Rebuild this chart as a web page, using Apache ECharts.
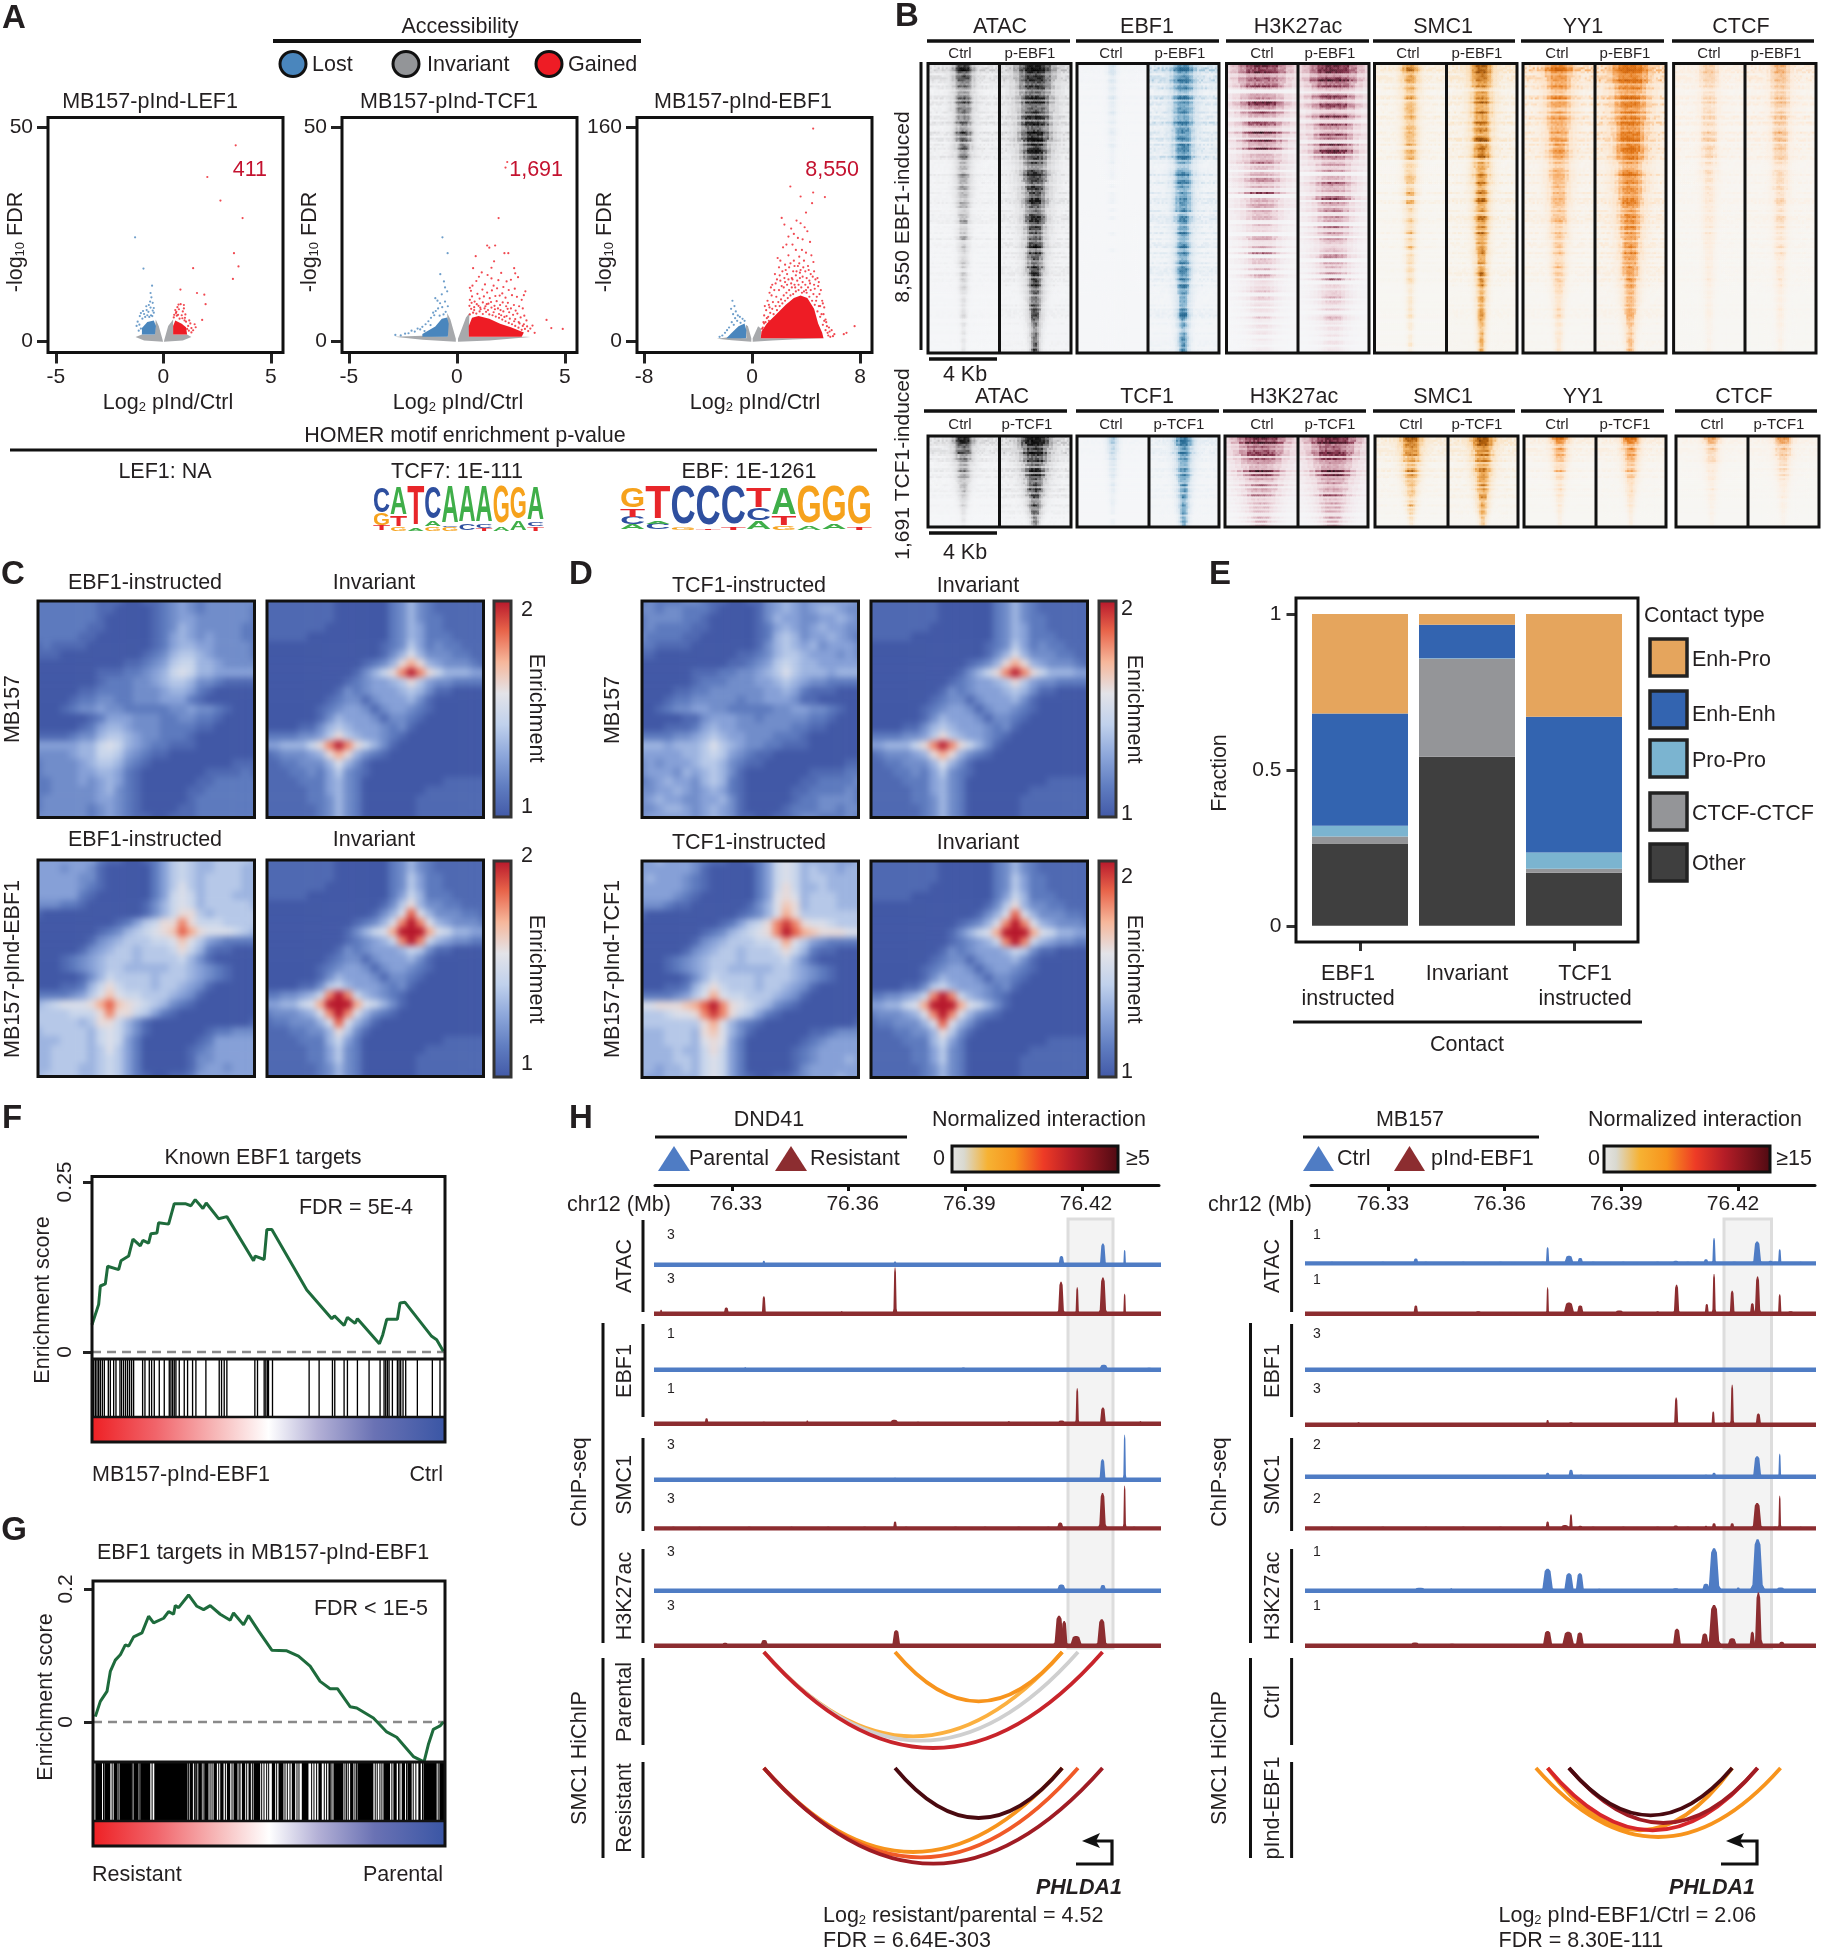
<!DOCTYPE html>
<html><head><meta charset="utf-8">
<style>html,body{margin:0;padding:0;background:#fff}
#hic,#main{position:absolute;left:0;top:0;width:1822px;height:1950px}
#hic{filter:blur(3.4px)}</style>
<script src="https://cdn.jsdelivr.net/npm/echarts@6/dist/echarts.min.js"></script></head>
<body><div id="hic"></div><div id="main"></div>
<script>
/* Values read by eye. Heatmap rows in B are built from per-row strength strings read from the picture and a typed texture;
   volcano clouds too dense to read point by point are drawn as read outlines plus the separable points. */
const FONT='"Liberation Sans",Arial,sans-serif', INK='#231f20';

// ---------- A: volcano ----------
const v1Red=[3.36,45.7,2.04,38.3,2.65,32.8,3.68,28.7,3.28,20.5,3.49,17.4,3.23,14.5,1.38,17,.79,12,1.56,11.2,1.9,10.8,1.96,8.6,1.8,4.9,.7,8.5,.8,8.6,.95,8.4,.55,7.2,.6,6.8,.72,7.4,.9,6.9,1.02,6.2,.5,6.1,.62,5.9,.85,6,1,5.4,1.2,4.8,1.45,3.9,1.5,3.2,1.3,3,1.38,2.5,1.15,3.5,1.05,4.5,.65,7.9,.48,5.5,.58,6.5,.95,7.6,1.1,2.8,1.25,4.1,1.18,2.4,1.3,2,.75,5.2,.68,6.1,.88,5.3,.98,4.8];
const v1Blue=[-1.32,24.2,-.93,16.9,-.53,12.9,-.6,11.2,-.56,10.2,-.62,9.2,-.5,8.9,-.68,8.4,-.8,8.1,-.6,7.8,-.45,7.7,-.78,7.2,-.95,7,-1.05,6.5,-.9,6.3,-.7,6.8,-.45,6.6,-1.1,5.8,-1.2,4.5,-1.25,3.5,-1.12,3.8,-1.05,2.9,-1.15,2.4,-.5,7.1,-.85,5.6,-.98,5.2,-.58,6,-.66,5.6,-.75,6,-.52,5.8];
const v1CloudRed=[[.45,1.5],[1.1,1.5],[1.05,3.2],[.85,4],[.55,4.8],[.45,3.5]];
const v1CloudBlue=[[-1,1.5],[-.4,1.5],[-.35,3.5],[-.45,4.8],[-.75,4.4],[-1,3]];
const v1CloudGrayL=[[-1.3,.9],[-.9,.1],[-.02,-.2],[-.04,.3],[-.22,3.5],[-.36,5],[-.4,1.5],[-1,1.5]];
const v1CloudGrayR=[[1.3,.9],[.9,.1],[.02,-.2],[.04,.3],[.22,3.5],[.45,5],[.45,1.5],[1.1,1.5]];
const v2Red=[1.93,28.7,2.33,41.8,2.25,40.5,1.4,22.3,1.77,22.3,1.5,21.8,.87,19.8,2.2,20.5,2.38,20.5,1.72,18.6,2.65,17,.75,17,1.6,17.1,2.83,14.9,3.17,11.6,4.15,4.9,4.9,2.8,4.37,3,2.7,15.8,.6,12.4,.65,11.7,.72,12.9,.9,14,1.02,15,1.15,16,1.3,13.2,1.42,15.4,1.6,14.6,1.7,12.9,1.92,14.2,2.05,15.9,2.15,12.6,2.3,13.9,2.5,14.3,.6,9.6,.7,10.4,.82,9.2,.95,11,1.05,9.9,1.18,12,1.25,10.4,1.4,11.3,1.52,10,1.62,11.8,1.78,10.5,1.86,12.3,1.98,10.6,2.1,11.1,2.25,10.1,2.4,11.9,2.55,10.7,2.68,12.2,2.78,10.3,3,9.6,3.1,10.7,.58,8.2,.68,8.9,.8,7.9,.92,8.6,1.08,7.8,1.2,9,1.32,8.1,1.46,8.7,1.58,9.1,1.74,8.2,1.84,9.3,2,8.4,2.12,9,2.28,8.1,2.36,8.9,2.5,7.6,2.64,8.4,2.72,7.1,2.88,8.1,3.05,7.6,3.12,5.9,2.95,5.5,2.8,6.4,2.6,6.1,2.42,6.7,2.3,5.8,2.15,6.9,2.02,7.2,3.22,4.8,3.25,3.4,3.1,3.9,3.3,2.3,3.4,2.9,3.6,1.9,3.5,3.6,2.86,4.4,2.7,5.1,1.9,7.6,1.76,7.4,.6,6.2,.75,6.6,.9,6.4,1.05,6.9,1.2,6.3,1.35,6.8,1.5,6.2,1.65,6,1.8,5.7,1.95,5.4,2.1,5,2.25,4.6,2.4,4.2,2.55,3.9,2.7,3.5,2.85,3.1,3,2.6,1.1,7.4,1.28,7.6,1.44,7.2,1.6,7.8,.8,7.2,.66,7.5,1.95,6.3,2.2,5.6,2.45,5.2,2.65,4.6,2.9,4.1,3.05,3.5,3.15,2.8,1.7,6.7,2.05,6,1,8.2,1.38,8.6,2.35,7.5];
const v2Blue=[-.67,24.2,-.43,20.5,-.77,15.6,-.6,13.9,-.55,12.5,-.45,11.6,-.7,10.9,-1,10,-.9,9.4,-.55,9.2,-.78,8.8,-.42,8.1,-.68,7.9,-.87,7.6,-.98,7,-1.1,6.6,-.52,6.8,-.62,6.2,-.8,5.9,-1.2,5.4,-1.32,4.6,-1.45,3.9,-1.6,3.3,-1.7,2.7,-1.82,2.9,-1.95,2.2,-2.1,2.4,-2.24,1.8,-2.4,1.7,-2.6,1.3,-2.85,1.4,-1.5,2.3,-1.22,3.7,-1.05,6];
const v2CloudRed=[[.55,1],[3,1],[3.1,2],[2.5,3.2],[2,4],[1.5,5.2],[1,5.8],[.7,5.4],[.55,3.5]];
const v2CloudBlue=[[-1.6,1],[-.42,1],[-.38,4],[-.45,5.5],[-.7,5.2],[-1,3.4],[-1.6,1.6]];
const v2CloudGrayL=[[-2.9,1],[-1.6,.3],[-.05,-.2],[-.05,.5],[-.3,5],[-.45,6.5],[-.42,1],[-1.6,1.2]];
const v2CloudGrayR=[[3.4,.9],[1.5,.1],[.05,-.2],[.05,.5],[.42,5.5],[.58,6.5],[.55,1],[3.2,1]];
const v3Red=[4.53,158.8,2.84,115.5,4.53,111,5.4,107.6,3.6,108,4.45,103,4,96,2.2,92,7,6,7.6,11,6.8,5,3.3,90,3.6,88,2.4,87,2.9,84,3.1,80,3.9,85,2.7,78,3.4,77,4.1,82,3.75,76,2.55,72,3,72,4.3,74,3.25,68,2.3,70,3.7,68,4,66,1.9,62,4.4,64,2.1,60,2.7,64,3.5,63,3.1,60,3.85,60,2.45,57,4.55,59,2,55,2.85,58,3.4,56,4.15,56,4.6,52,1.7,50,2.25,52,3.6,53,2.6,50,3.05,52,4.35,50,4.85,47,1.5,42,1.85,46,2.1,45,2.4,47,2.95,47,3.25,49,3.75,48,4.05,47,4.9,41,5.1,38,1.3,36,1.45,34,1.65,38,5,35,5.2,30,5.35,25,5.3,20,5.5,14,5.7,10,5.6,6,5.9,8,6.1,5,5.45,16,5.25,28,4.95,44,4.7,46,1.15,30,1.25,27,1.05,23,.9,19,.85,14,.95,26,1.4,40,1.75,43,2.05,49,2.5,53,2.75,55,3.15,56,3.5,58,3.95,52,4.25,45,4.65,39,4.8,33,5.05,26,
1,14,1.2,18,1.35,21,1.5,24,1.6,20,1.75,26,1.85,23,1.95,29,2.05,26,2.15,31,2.25,28,2.35,34,2.45,30,2.55,36,2.65,32,2.75,38,2.85,34,2.95,40,3.05,35,3.15,42,3.25,37,3.35,45,3.45,38,3.55,47,3.65,40,3.75,44,3.85,37,3.95,42,4.05,36,4.15,40,4.25,33,4.35,38,4.45,30,4.55,35,4.65,27,4.75,30,4.85,22,4.95,26,5.05,18,5.15,20,5.25,12,5.35,15,1.3,25,1.55,29,1.8,33,2,38,2.2,41,2.45,44,2.7,46,3,46,3.3,52,3.55,51,3.8,55,4.2,53,4.5,48,2.35,40,2.6,42,2.9,43,3.2,40,3.45,42,3.7,36,4,38,4.3,43,4.6,42,.8,10,.9,13,1.1,17,1.25,15,.75,9,5.45,8,5.55,11,5.65,4,5.75,7,5.8,3,6,3.5];
const v3Blue=[-1.45,30,-1.3,26,-1.55,24,-1.2,22,-1.4,20,-1.05,19,-.9,18,-1.25,17,-.7,16.5,-1.1,15,-.55,15,-1.5,14,-.85,13.5,-1.35,12,-1.7,10,-1.85,8,-2,6,-2.2,4,-2.4,3];
const v3CloudRed=[[.65,2],[5.3,2],[5.2,6],[4.9,13],[4.6,24],[4.1,32],[3.6,34],[3.1,32],[2.5,27],[1.8,20],[1.1,13],[.7,7]];
const v3CloudBlue=[[-1.9,2],[-.45,2],[-.42,8],[-.55,13],[-1,11],[-1.5,6]];
const v3CloudGrayL=[[-2.6,1.5],[-1.5,.5],[-.05,-.6],[-.05,2],[-.3,11],[-.45,12],[-.42,2],[-1.9,2.5]];
const v3CloudGrayR=[[3,1],[1.5,.2],[.05,-.6],[.05,2],[.45,11],[.68,9],[.65,2],[5.4,2]];
const v1Ticks=[-5,0,5], v2Ticks=[-5,0,5], v3Ticks=[-8,0,8], vYTicks12=[0,50], vYTicks3=[0,160];

// motif logos: [letter,height fraction] from bottom to top
const logoTCF7=[[['T',.12],['G',.27],['C',.6]],[['G',.08],['T',.25],['A',.65]],[['A',.05],['T',.95]],[['G',.1],['A',.12],['C',.75]],[['G',.08],['C',.04],['A',.88]],[['C',.15],['A',.85]],[['T',.05],['C',.1],['A',.85]],[['A',.1],['G',.88]],[['A',.22],['G',.75]],[['T',.1],['C',.1],['A',.8]]];
const logoEBF=[[['A',.12],['C',.18],['T',.2],['G',.5]],[['C',.15],['A',.05],['T',.8]],[['G',.05],['C',.95]],[['T',.03],['C',.97]],[['T',.05],['C',.95]],[['A',.2],['C',.3],['T',.5]],[['G',.1],['T',.22],['A',.65]],[['A',.1],['G',.9]],[['A',.12],['G',.88]],[['T',.05],['G',.95]]];

// ---------- B: row strength (hex, top to bottom) ----------
const R_ATAC_C="dfcebdacbdaebacabd9bac8ba9b7a98a7968a6879576a56745763655464354345243423232";
const R_ATAC_P="ffefdfefefcfefdfefeffdfcefdfefcfdefdfcefdefcdefcdecfdecdfcecdecdcecdcdbcdb";
const R_EBF_C="434232323222312122112111211110101110101000100010000000000000000000000000";
const R_EBF_P="cfbdecfaecbfdaecfbdaecbfdacebfdacebdfaecbdfacebdafcebdafcebdacfebdacebdc";
const R_H3_C="fdfbecfa4eb9fd7ea6dc8fb5eaf6b9e8c2a7d9b6e3a8c5b9a3c7a2b86a4c2a95a3b2758a3947263952736253142";
const R_H3_P="fefcfdfb5fcafe8fb7ed9fc6fbf7cafad3b8eac7f4b9d6ca4d8b3c97b5d3ba6b4c3869b4a5837a6384736254";
const R_SMC_C="bdacb9cab8ac9ba7c9a8b6a9b6a87a968b5a6975876a5869486757466354564546345243523";
const R_SMC_P="fdfeceafcfbdfbecfadfbecfadfbdcfaecfbcdafbdcebdafcbdacebcdabcdbacbdabcbcaba";
const R_YY1_C="dfcdbecbdbcacbdacbabcacbabacabab9ab9a9a9a989a8989878a7878787676767565656564";
const R_YY1_P="fffefdfefdfefdfefdfedfedfedefdedecedecdecdecdcdcdcdcdcbcbcbcbcbabababa9a9a8";
const R_CTCF_C="a9ba9a8a9a8a9a898a8a7a8a7a8a7978787687676757675656565565545545454434434343";
const R_CTCF_P="dbdcbcbdbcbabcbabcabab9aba9a9a9a89a9898a8987878787677676766565655555445444";
const R2_ATAC_C="efdcebdcabcbaba9a98a787a6876565454433323212";
const R2_ATAC_P="ffefefdfefdfefcfedfcedfdcedcdcbcbcbababa9a98";
const R2_TCF_C="7656545343233232221221110110";
const R2_TCF_P="dfcedbecdbecdacdbcadbcabcabab9aa9a9a";
const R2_H3_C="ffdfbfcedfaecfbdafbe9ca8d7ba9c6a8b5a7946a5a3a7";
const R2_H3_P="ffefcfdeefbfcfcebfcfacb9e8cba9d7b9c6b8a57b6a4b8";
const R2_SMC_C="febdfcdbecbdacbd9cb8ba9a79a8696a5857465342";
const R2_SMC_P="ffdfeceafdcfbdecfbdcebdbcacbcabab9a9a98787";
const R2_YY1_C="fcb9db8c9a8a7a687565756453544343232";
const R2_YY1_P="fdcaec9dbaba9a8a7868676564554343332";
const R2_CTCF_C="ecb9ca8b9a786857665745464353443232";
const R2_CTCF_P="fdcadb9ca9b8a7968767565645454343332";
const KERNEL=[1,.92,.7,.45,.3,.2,.13,.09,.06,.04,.03];
const SPECKLE="9204716385170392846152703948165029374816059273648105937264801592736";

// ---------- C/D: aggregate peak maps, hex level 0..f = enrichment 1..2, rows 0..12 (lower half is the point reflection) ----------
const apaInstructedMB=["2222222111001123432333333","2222222110000123432333332","2222222100000123443333332","2222221100000123543333322","2222211000000124543433322","1211110000000124554433332","1110000000001235665433332","0000000000112346775543333","0000000111223457875544444","0000000122233456653321111","0000011222233345542100000","0000122332233344421000000","0001233433222223343321000"];
const apaInvariantMB=["1111111100000023532111111","1111111100000023532111111","1111111100000023532211111","1111111000000023542211111","1111100000000023542221111","0000000000000123642322111","0000000000000135853332211","0000000000012359b95433321","000000000013579cfc9755544","0000000001234456964332222","0000000013234445653110000","0000000123313444531000000","0000001234431344321000000"];
const apaInstructedEBF=["4444444211001246765566665","4443443100000246765566655","4444433100000246765666655","4444432100000246865666655","4444421000000247875666555","3332210000001357875666665","1000000000001357996566666","0000000001246799c97776666","000000012356789adb9888765","0000001345666778a86432222","0000013456656667975211000","0001234566656666753100000","0001234566555556654321000"];
const apaInvariantEBF=["1111111100000023532111111","1111111100000023532111111","1111111100000023642211111","1111111000000023642211111","1111100000000024752221111","0000000000000136953322111","0000000000001358d85333221","000000000012358cfc8543332","00000000013578bfffb875544","000000000123457cfc7543322","0000000013234445763110000","0000000123313444531000000","0000001234431344321000000"];
const apaInstructedTCFMB=["2322233211001134543444443","3323322210000134543455433","2333322100000135443344543","2322221100000124543454433","3222211000000125653445432","2211110000000135654534443","1100000000011235665444343","0000000000112346765544444","0000001112233456865554555","0000001222333445654332222","0000112233333344542111000","0001223333323344431100000","0012334433222223344332100"];
const apaInstructedTCF=["4454443211001247875555445","4444443100000247875655455","4544432100000247875665555","4444432100000247975565555","4444321000000248985666555","3332110000001358a95666555","1000000000012358b96666666","000000000124679cec9887666","000000012356789cfdba99988","0000001345666778b86432222","0000013456656667975211000","0001234566656666753100000","0001234566555556654321000"];

// ---------- E ----------
const contactCats=['EBF1 instructed','Invariant','TCF1 instructed'];
const cOther=[.264,.542,.17], cCtcf=[.022,.314,.013], cProPro=[.035,.002,.052], cEnhEnh=[.36,.107,.435], cEnhPro=[.319,.035,.33];

// ---------- F/G ----------
const fRank=[0,20,25,40,47,80,87,110,123,145,153,170,177,195,200,230,247,280,297,310,333,343,380,405,485,490,517,525,540,645,720,728,757,767,790,797,863,873,885,917,925,940,1020,1035,1055];
const fScore=[.04,.07,.097,.1,.126,.121,.134,.141,.166,.156,.164,.16,.174,.175,.19,.188,.218,.218,.215,.224,.211,.219,.196,.199,.134,.141,.136,.18,.18,.091,.049,.053,.039,.051,.042,.049,.012,.025,.048,.048,.072,.073,.023,.018,.001];
const fHits=[3,8,13,18,23,29,35,47,53,63,70,82,87,93,99,105,111,117,123,150,157,170,177,185,200,215,230,235,240,245,250,260,275,285,300,310,340,380,387,395,403,487,495,515,520,525,528,540,650,680,720,727,755,765,795,830,863,875,880,885,890,900,915,920,925,932,940,975,1020,1043];
const gRank=[7,22,42,52,67,82,97,107,122,147,167,182,212,227,242,247,257,287,312,332,352,382,412,422,452,467,497,537,582,617,652,682,712,734,772,792,842,882,912,962,994,1007,1022,1042,1052];
const gScore=[.008,.031,.046,.076,.093,.101,.116,.114,.128,.134,.159,.149,.156,.166,.162,.175,.172,.191,.174,.169,.175,.162,.153,.164,.146,.16,.137,.108,.107,.099,.084,.061,.05,.05,.023,.021,.006,-.015,-.023,-.052,-.06,-.034,-.011,-.006,0];
const gHitBands=[[7,27],[34,52],[62,74],[80,117],[122,137],[142,172],[184,284],[290,300],[307,312],[317,327],[334,347],[362,372],[382,392],[402,412],[422,434],[447,457],[467,474],[482,502],[537,547],[557,572],[597,607],[627,647],[677,687],[707,714],[722,752],[772,782],[794,842],[872,892],[902,912],[927,937],[944,957],[977,984],[992,1032],[1040,1057]];
const gHitThin=[30,56,76,118,139,176,285,303,314,329,350,356,376,396,416,437,440,460,477,505,512,520,526,550,575,582,590,611,617,655,662,670,693,700,716,755,760,765,785,790,846,852,860,866,896,916,920,940,960,968,988,1035];

// ---------- H: tracks, each peak [bin, height, half width] ----------
const L_ATAC_A=[[515,12,5],[847,10,5],[1268,25,9],[1373,60,9],[1428,42,4],[420,3,5],[660,3,5],[1130,2,6]];
const L_ATAC_B=[[255,12,4],[420,18,8],[465,5,6],[515,50,6],[712,8,4],[847,130,5],[1128,4,4],[1267,90,9],[1308,75,5],[1373,102,10],[1428,57,4],[1480,4,6]];
const L_EBF_A=[[330,4,6],[468,8,4],[650,4,5],[730,5,5],[1020,7,8],[1210,5,8],[1315,5,6],[1375,15,14],[1490,6,12],[290,3,9],[900,4,10]];
const L_EBF_B=[[370,16,6],[515,6,8],[625,10,4],[845,12,14],[905,6,8],[1135,8,5],[1268,10,12],[1308,100,5],[1373,46,9],[1468,8,4],[300,5,10],[420,4,12],[560,5,8],[700,4,10],[760,4,8],[980,5,10],[1050,4,9],[1210,4,8]];
const L_SMC_A=[[512,3,6],[847,6,5],[908,4,4],[1268,3,5],[1372,58,9],[1428,127,4],[1465,5,4]];
const L_SMC_B=[[847,20,6],[1265,17,10],[1372,100,10],[1428,120,4],[1490,3,8],[512,3,8]];
const L_H3_A=[[1268,18,14],[1373,17,10]];
const L_H3_B=[[417,9,10],[516,17,12],[850,44,12],[1262,85,14],[1275,70,10],[1305,28,18],[1370,75,14],[1430,4,10]];
const R_ATAC_A=[[560,14,8],[887,46,5],[940,22,14],[968,16,9],[1205,8,10],[1280,12,8],[1300,72,5],[1407,62,12],[1463,40,5],[715,3,8],[1350,5,12],[1440,8,8]];
const R_ATAC_B=[[560,24,7],[715,8,10],[887,75,4],[940,32,16],[968,24,10],[1065,10,14],[1160,8,6],[1207,82,8],[1282,28,6],[1300,112,5],[1345,65,7],[1395,30,7],[1408,105,8],[1463,55,5],[1490,8,10],[800,4,8]];
const R_EBF_A=[[1410,3,10],[640,2,8]];
const R_EBF_B=[[418,8,5],[887,14,5],[945,8,8],[1206,77,6],[1298,38,5],[1326,8,4],[1345,113,5],[1410,32,8],[1465,5,6],[650,5,6]];
const R_SMC_A=[[887,12,7],[945,20,8],[970,6,8],[1280,6,8],[1300,12,7],[1407,58,12],[1463,65,4]];
const R_SMC_B=[[560,4,8],[887,20,6],[945,40,5],[930,10,14],[968,8,8],[1205,9,9],[1280,8,5],[1300,15,7],[1345,15,7],[1407,72,13],[1463,92,4]];
const R_H3_A=[[570,9,18],[648,8,4],[887,62,16],[940,50,14],[967,50,12],[1015,6,6],[1205,8,12],[1280,20,12],[1300,120,16],[1408,145,16],[1465,10,14],[1360,10,6],[780,4,8],[820,4,8]];
const R_H3_B=[[558,10,14],[650,6,14],[887,42,14],[938,40,18],[967,38,12],[1208,48,12],[1277,35,12],[1300,115,16],[1345,22,14],[1395,40,8],[1410,150,10],[1468,12,10]];
const baseBumps=[[262,4,7],[286,5,9],[318,3,8],[352,5,7],[388,4,10],[446,4,8],[478,5,9],[540,3,10],[585,5,7],[612,4,9],[640,3,8],[678,5,9],[735,4,8],[770,5,10],[802,4,7],[875,5,9],[930,4,8],[1000,5,10],[1038,3,8],[1075,5,9],[1105,4,7],[1160,5,10],[1195,4,8],[1235,5,9],[1330,4,8],[1410,4,7],[1452,5,9],[1495,4,8],[1515,5,6],[1535,4,8]];
// arcs: [start bin, end bin, lowest point, colour]
const arcsLParental=[[515,1270,290,'#fbb040'],[515,1310,303,'#cfcfcf'],[515,1372,325,'#c8242b'],[847,1270,185,'#f7941d']];
const arcsLResistant=[[515,1270,637,'#f7941d'],[515,1310,653,'#f05a28'],[515,1372,672,'#a01c24'],[847,1270,535,'#4a0a10']];
const arcsR=[[858,1465,592,'#f7941d'],[887,1345,572,'#f7941d'],[887,1408,572,'#d7262b'],[940,1408,550,'#a01c24'],[940,1345,527,'#4a0a10']];
const hMbTicks=[76.33,76.36,76.39,76.42];

// ---------- builders ----------
const grids=[],xAxes=[],yAxes=[],series=[],gfx=[];
function addGrid(l,t,w,h,xa,ya){const i=grids.length;grids.push({left:l,top:t,width:w,height:h,containLabel:false});
 xAxes.push(Object.assign({gridIndex:i,type:'value',show:false,splitLine:{show:false}},xa||{}));
 yAxes.push(Object.assign({gridIndex:i,type:'value',show:false,splitLine:{show:false}},ya||{}));return i;}
function T(s,x,y,o){o=o||{};const st={text:s,fontFamily:o.ff||FONT,fontSize:o.fs||21.5,fontWeight:o.fw||'normal',fontStyle:o.it||'normal',fill:o.c||INK,align:o.a||'center',verticalAlign:'middle'};
 if(o.rich)st.rich=o.rich;
 const r=o.r||0;gfx.push({type:'text',x:x+(r>0?1.3:0),y:y+(r?0:1.3),z:100,rotation:r,silent:true,style:st});}
function L(x1,y1,x2,y2,w,c){gfx.push({type:'line',z:100,silent:true,shape:{x1,y1,x2,y2},style:{stroke:c||'#111',lineWidth:w||3}});}
function Box(x,y,w,h,lw,fill,stroke,z){gfx.push({type:'rect',z:z==null?100:z,silent:true,shape:{x,y,width:w,height:h},style:{fill:fill||'none',stroke:stroke||'#111',lineWidth:lw==null?3:lw}});}
function pairs(a){const o=[];for(let i=0;i<a.length;i+=2)o.push([a[i],a[i+1]]);return o;}
const R90=Math.PI/2;
const subRich=fs=>({b:{fontSize:fs,fontFamily:FONT,fill:INK,lineHeight:30,verticalAlign:'middle'},s:{fontSize:Math.round(fs*.62),fontFamily:FONT,fill:INK,lineHeight:12,verticalAlign:'bottom'}});

// A
function volcano(l,t,w,h,xr,yr,xt,yt,ds){
 const axT={show:true,length:11,lineStyle:{width:3,color:'#222'}};
 const lab={show:true,fontSize:21,fontFamily:FONT,color:INK};
 const g=addGrid(l,t,w,h,
  {show:true,min:xr[0],max:xr[1],axisLine:{show:false,onZero:false},axisTick:Object.assign({customValues:xt},axT),axisLabel:Object.assign({customValues:xt,margin:14},lab)},
  {show:true,min:yr[0],max:yr[1],axisLine:{show:false,onZero:false},axisTick:Object.assign({customValues:yt},axT),axisLabel:Object.assign({customValues:yt,margin:15},lab)});
 const poly=(pts,c)=>series.push({type:'custom',xAxisIndex:g,yAxisIndex:g,data:pts,silent:true,animation:false,
   renderItem:(p,api)=>p.dataIndex?null:{type:'polygon',shape:{points:pts.map(q=>api.coord(q))},style:{fill:c}}});
 const dots=(a,c)=>series.push({type:'scatter',xAxisIndex:g,yAxisIndex:g,data:pairs(a),symbolSize:2.2,itemStyle:{color:c},silent:true,animation:false,large:false});
 poly(ds.gl,'#a7a9ac');poly(ds.gr,'#a7a9ac');poly(ds.cb,'#4a86bd');poly(ds.cr,'#ee1c25');dots(ds.b,'#4a86bd');dots(ds.r,'#ee1c25');
 Box(l,t,w,h);
}
volcano(48,117.5,235,235,[-5.37,5.56],[-2.7,52.2],v1Ticks,vYTicks12,{gl:v1CloudGrayL,gr:v1CloudGrayR,cb:v1CloudBlue,cr:v1CloudRed,b:v1Blue,r:v1Red});
volcano(342,117.5,235,235,[-5.32,5.56],[-2.7,52.2],v2Ticks,vYTicks12,{gl:v2CloudGrayL,gr:v2CloudGrayR,cb:v2CloudBlue,cr:v2CloudRed,b:v2Blue,r:v2Red});
volcano(637,117.5,235,235,[-8.52,8.89],[-8.7,167.1],v3Ticks,vYTicks3,{gl:v3CloudGrayL,gr:v3CloudGrayR,cb:v3CloudBlue,cr:v3CloudRed,b:v3Blue,r:v3Red});
T('A',14,18,{fs:33,fw:'bold'});T('Accessibility',460,26);L(273,41,641,41,4);
[[293,'#4a86bd','Lost',312],[406,'#939598','Invariant',427],[549,'#ee1c25','Gained',568]].forEach(d=>{
 gfx.push({type:'ellipse',z:100,silent:true,shape:{cx:d[0],cy:64,rx:13,ry:12.5},style:{fill:d[1],stroke:'#111',lineWidth:3}});T(d[2],d[3],64,{a:'left'});});
[['MB157-pInd-LEF1',150],['MB157-pInd-TCF1',449],['MB157-pInd-EBF1',743]].forEach(d=>T(d[0],d[1],101));
[[15,168],[309,458],[604,755]].forEach(d=>{
 T('-log{s|10} FDR',d[0],242,{r:R90,rich:subRich(21.5)});
 T('Log{s|2} pInd/Ctrl',d[1],401.5,{rich:subRich(21.5)});});
T('411',267,169,{a:'right',c:'#c4122f'});T('1,691',563,169,{a:'right',c:'#c4122f'});T('8,550',859,169,{a:'right',c:'#c4122f'});
T('HOMER motif enrichment p-value',465,435);L(10,450,877,450,3);
T('LEF1: NA',165,471);T('TCF7: 1E-111',457,471);T('EBF: 1E-1261',749,471);
const LOGOC={A:'#3fae49',C:'#2e4f9f',G:'#f6a21c',T:'#e8262a'};
const mc=document.createElement('canvas').getContext('2d');mc.font='bold 100px "Liberation Sans"';
function logo(data,x0,x1,yb,H){const cw=(x1-x0)/data.length;data.forEach((col,i)=>{let y=yb;col.forEach(e=>{const h=e[1]*H;
  const m=mc.measureText(e[0]).width;
  gfx.push({type:'text',z:100,silent:true,x:x0+i*cw,y:y-h/2,scaleX:cw/m,scaleY:h/72,style:{text:e[0],font:'bold 100px "Liberation Sans"',fill:LOGOC[e[0]],align:'left',verticalAlign:'middle'}});
  y-=h;});});}
logo(logoTCF7,373,544,531,42);logo(logoEBF,620,872,530,41);

// B
const bPal={k:['#f5f6f8','#d4d4d6','#8a8a8c','#222','#000'],b:['#f5f6f8','#cfe0ec','#7fb0cd','#2f7199','#1d5f89'],
 h:['#f5f6f8','#eed7dd','#cc96a5','#7e2c45','#2a1018'],s:['#f7f6f3','#fbdfba','#efab58','#b9660f','#7a3f0a'],
 y:['#f7f6f3','#fde3c8','#f7ae6a','#e27514','#c85e08'],c:['#f7f6f3','#fcecdd','#f9cda4','#ec994f','#d67a2a']};
const bGamma={k:1.15,b:1,h:1.7,s:1.3,y:1.3,c:1.3};
const bIdx={k:[],b:[],h:[],s:[],y:[],c:[]};
const COLS=36, SL=SPECKLE.length;
function heat(left,w,top,h,rows,str,wT,wB,tail,pal){
 const g=addGrid(left,top,w,h,{type:'category',data:Array.from({length:COLS},(_,i)=>i)},{type:'category',inverse:true,data:Array.from({length:rows},(_,i)=>i)});
 const d=[],mid=(COLS-1)/2;for(let r=0;r<rows;r++){const amp=Math.pow(parseInt(str[Math.floor(r*str.length/rows)],16)/15,bGamma[pal]),f=r/rows,wd=wB+(wT-wB)*(1-f);
  const rs=Math.min(1,Math.max(0,(+SPECKLE[(r*r*7+r*13)%SL]+ +SPECKLE[(r*11)%61])/18*1.5-.25)),core=amp*(.55+.45*rs);
  for(let c=0;c<COLS;c++){const k=KERNEL[Math.min(KERNEL.length-1,Math.floor(2*Math.abs(c-mid)/wd))];
   const cs=+SPECKLE[(r*r*3+c*c*5+r*c*11+c*7)%SL]/9;
   const tl=tail*(1-.85*f)*(.3+.7*cs)*(rs>.55?1:.45);
   d.push([c,r,+(core*Math.max(k*(.8+.2*cs),tl)).toFixed(3)]);}}
 bIdx[pal].push(series.length);
 series.push({type:'heatmap',xAxisIndex:g,yAxisIndex:g,data:d,progressive:0,silent:true,animation:false,itemStyle:{borderWidth:0},emphasis:{disabled:true}});
}
// per column: [frame x0, x1, divider, pal, strC, strP, wTc,wBc,tc, wTp,wBp,tp]
const bTop=[[928,1071,999.5,'k',R_ATAC_C,R_ATAC_P,3,.5,.3,5.5,1,.35],[1077,1219,1148,'b',R_EBF_C,R_EBF_P,1.2,.5,.1,3.5,1.2,.4],[1226.5,1369,1298,'h',R_H3_C,R_H3_P,8,3,.25,8,3,.25],[1374.5,1517,1446.5,'s',R_SMC_C,R_SMC_P,2.4,.6,.22,3.2,.8,.25],[1523,1666,1595,'y',R_YY1_C,R_YY1_P,4.5,.8,.5,6,1,.5],[1673.6,1816,1745,'c',R_CTCF_C,R_CTCF_P,3.2,.8,.5,3.5,.8,.5]];
const bBot=[[928,1071,999.5,'k',R2_ATAC_C,R2_ATAC_P,3,.5,.3,4.8,.9,.35],[1077,1219,1149,'b',R2_TCF_C,R2_TCF_P,1.4,.5,.08,2.5,.9,.15],[1225,1368,1298,'h',R2_H3_C,R2_H3_P,8,3,.3,8,3,.3],[1375,1518,1448,'s',R2_SMC_C,R2_SMC_P,3,.6,.2,3.4,.7,.22],[1524,1666,1596,'y',R2_YY1_C,R2_YY1_P,2.4,.5,.2,2.6,.5,.2],[1676,1819,1748,'c',R2_CTCF_C,R2_CTCF_P,2.4,.5,.2,2.8,.5,.2]];
function heatRow(list,top,h,rows){list.forEach(p=>{
 heat(p[0],p[2]-p[0],top,h,rows,p[4],p[6],p[7],p[8],p[3]);
 heat(p[2],p[1]-p[2],top,h,rows,p[5],p[9],p[10],p[11],p[3]);
 Box(p[0],top,p[1]-p[0],h);L(p[2],top,p[2],top+h,3);});}
heatRow(bTop,63.6,289.4,144);heatRow(bBot,436,91,45);
T('B',907,16,{fs:33,fw:'bold'});
[['ATAC',1000,927,1070],['EBF1',1147,1076,1219],['H3K27ac',1298,1226,1369],['SMC1',1443,1373,1515],['YY1',1583,1521,1664],['CTCF',1741,1672,1814]].forEach(d=>{T(d[0],d[1],26);L(d[2],41,d[3],41,3.5);});
[['ATAC',1002,924,1067],['TCF1',1147,1076,1219],['H3K27ac',1294,1223,1366],['SMC1',1443,1373,1515],['YY1',1583,1521,1664],['CTCF',1744,1675,1817]].forEach(d=>{T(d[0],d[1],396);L(d[2],411,d[3],411,3.5);});
[[960,1030],[1111,1180],[1262,1330],[1408,1477],[1557,1625],[1709,1776]].forEach(d=>{T('Ctrl',d[0],53,{fs:15});T('p-EBF1',d[1],53,{fs:15});});
[[960,1027],[1111,1179],[1262,1330],[1411,1477],[1557,1625],[1712,1779]].forEach(d=>{T('Ctrl',d[0],424,{fs:15});T('p-TCF1',d[1],424,{fs:15});});
L(921,62,921,350,3);T('8,550 EBF1-induced',902,207,{r:R90,fs:21});T('1,691 TCF1-induced',902,464,{r:R90,fs:21});
L(929,359,997,359,3.5);T('4 Kb',965,374);L(929,533,997,533,3.5);T('4 Kb',965,552);

// C, D
const apaStops=[[0,'#4158a6'],[1/7,'#5f7cc0'],[2/7,'#8ca6da'],[3/7,'#c0d1ec'],[4/7,'#e3e3e8'],[5/7,'#f6b79b'],[6/7,'#e8644a'],[1,'#b5152a']];
const APA=216.5;
const apaPanels=[[38,601,apaInstructedMB],[267,601,apaInvariantMB],[38,860,apaInstructedEBF],[267,860,apaInvariantEBF],[642,601,apaInstructedTCFMB],[871,601,apaInvariantMB],[642,861,apaInstructedTCF],[871,861,apaInvariantEBF]];
apaPanels.forEach(p=>Box(p[0],p[1],APA,APA));
const vGrad=s=>({type:'linear',x:0,y:1,x2:0,y2:0,colorStops:s.map(q=>({offset:q[0],color:q[1]}))});
const hGrad=s=>({type:'linear',x:0,y:0,x2:1,y2:0,colorStops:s.map(q=>({offset:q[0],color:q[1]}))});
[[494,601],[494,861],[1099,601],[1099,861]].forEach(d=>{gfx.push({type:'rect',z:100,silent:true,shape:{x:d[0],y:d[1],width:17,height:216},style:{fill:vGrad(apaStops),stroke:'#333',lineWidth:3}});});
T('C',13,574,{fs:33,fw:'bold'});T('D',581,574,{fs:33,fw:'bold'});
T('EBF1-instructed',145,582);T('Invariant',374,582);T('EBF1-instructed',145,839);T('Invariant',374,839);
T('TCF1-instructed',749,585);T('Invariant',978,585);T('TCF1-instructed',749,842);T('Invariant',978,842);
T('MB157',12,709,{r:R90});T('MB157-pInd-EBF1',12,969,{r:R90});T('MB157',612,710,{r:R90});T('MB157-pInd-TCF1',612,969,{r:R90});
[[527,609],[527,855],[1127,608],[1127,876]].forEach(d=>T('2',d[0],d[1]));[[527,806],[527,1063],[1127,813],[1127,1071]].forEach(d=>T('1',d[0],d[1]));
[[536,708],[536,969],[1134,709],[1134,969]].forEach(d=>T('Enrichment',d[0],d[1],{r:-R90}));

// E
(function(){const g=addGrid(1306.5,598,321,344,
  {show:true,type:'category',data:contactCats,axisLine:{show:false,onZero:false},axisTick:{show:true,alignWithLabel:true,length:9,lineStyle:{width:3,color:'#333'}},axisLabel:{show:false},offset:0},
  {show:true,min:-.052,max:1.051,offset:10,axisLine:{show:false,onZero:false},axisTick:{show:true,length:10,customValues:[0,.5,1],lineStyle:{width:3,color:'#333'}},axisLabel:{customValues:[0,.5,1],fontSize:21,fontFamily:FONT,color:INK,margin:15}});
 [[cOther,'#3f3f3f','Other'],[cCtcf,'#949598','CTCF-CTCF'],[cProPro,'#7bb4d0','Pro-Pro'],[cEnhEnh,'#3364b0','Enh-Enh'],[cEnhPro,'#e5a55d','Enh-Pro']].forEach(d=>{
  series.push({type:'bar',name:d[2],stack:'c',xAxisIndex:g,yAxisIndex:g,data:d[0],barWidth:96,itemStyle:{color:d[1]},silent:true,animation:false});});
 Box(1296,598,342,344);
 T('E',1220,574,{fs:33,fw:'bold'});T('Fraction',1219,773,{r:R90});
 T('EBF1',1348,973);T('instructed',1348,998);T('Invariant',1467,973);T('TCF1',1585,973);T('instructed',1585,998);L(1293,1022,1642,1022,3);T('Contact',1467,1044);
 T('Contact type',1644,615,{a:'left'});
 [[639,'#e5a55d','Enh-Pro',659],[691,'#3364b0','Enh-Enh',714],[740,'#7bb4d0','Pro-Pro',760],[793,'#949598','CTCF-CTCF',813],[844,'#3f3f3f','Other',863]].forEach(d=>{Box(1650,d[0],37,37,3.5,d[1],'#222');T(d[2],1692,d[3],{a:'left'});});
})();

// F, G
const stripStops=[[0,'#ee2024'],[.18,'#f1646a'],[.36,'#f7bcbc'],[.5,'#ffffff'],[.64,'#b3b0d6'],[.8,'#6a72b4'],[1,'#3a56a5']];
function gsea(l,w,xMax,top,sep,barB,stripT,stripB,frameB,yMin,yMax,yT,rank,score,bands){
 const g=addGrid(l,top,w,sep-top,{min:0,max:xMax},
  {show:true,min:yMin,max:yMax,axisLine:{show:false,onZero:false},axisTick:{show:true,length:9,customValues:yT,lineStyle:{width:3,color:'#222'}},axisLabel:{customValues:yT,rotate:90,fontSize:21,fontFamily:FONT,color:INK,margin:16}});
 series.push({type:'line',xAxisIndex:g,yAxisIndex:g,data:[[0,0],[xMax,0]],showSymbol:false,silent:true,animation:false,lineStyle:{color:'#8a8a8a',width:2.5,type:[9,6]}});
 series.push({type:'line',xAxisIndex:g,yAxisIndex:g,data:rank.map((x,i)=>[x,score[i]]),showSymbol:false,silent:true,animation:false,lineStyle:{color:'#1e6b3c',width:3}});
 const b=addGrid(l,sep,w,barB-sep,{min:0,max:xMax},{min:0,max:1});
 series.push({type:'custom',xAxisIndex:b,yAxisIndex:b,data:bands,silent:true,animation:false,encode:{x:[0,1]},
  renderItem:(p,api)=>{const a=api.coord([api.value(0),1]),c=api.coord([api.value(1),0]);return{type:'rect',shape:{x:a[0],y:a[1],width:Math.max(1,c[0]-a[0]),height:c[1]-a[1]},style:{fill:'#000'}};}});
 gfx.push({type:'rect',z:99,silent:true,shape:{x:l,y:stripT,width:w,height:stripB-stripT},style:{fill:hGrad(stripStops)}});
 Box(l,top,w,frameB-top);L(l,sep,l+w,sep,3);L(l,stripT-1,l+w,stripT-1,2.5);
}
gsea(92,353,1060,1176.5,1359,1416,1418,1442,1442,-.0103,.258,[0,.25],fRank,fScore,fHits.map(x=>[x,x+4]));
gsea(93,352,1057,1581,1762,1820,1822,1846,1846,-.0602,.212,[0,.2],gRank,gScore,gHitBands.concat(gHitThin.map(x=>[x,x+2])));
T('F',12,1118,{fs:33,fw:'bold'});T('G',14,1530,{fs:33,fw:'bold'});
T('Known EBF1 targets',263,1157);T('FDR = 5E-4',356,1207);T('MB157-pInd-EBF1',92,1474,{a:'left'});T('Ctrl',443,1474,{a:'right'});
T('Enrichment score',42,1300,{r:R90});T('Enrichment score',45,1697,{r:R90});
T('EBF1 targets in MB157-pInd-EBF1',263,1551.5);T('FDR < 1E-5',371,1608);T('Resistant',92,1874,{a:'left'});T('Parental',443,1874,{a:'right'});

// H
const heatStops=[[0,'#e6e6e6'],[.08,'#d9d9d0'],[.22,'#f6b233'],[.38,'#f7941d'],[.55,'#ee3b26'],[.72,'#b51d27'],[1,'#4d0a12']];
const PK=[[-1.3,0],[-.8,.12],[-.45,.9],[-.15,1],[.15,1],[.45,.9],[.8,.12],[1.3,0]];
function track(left,w,bMin,bMax,base,pk,col){
 const g=addGrid(left,base-50,w,50,{min:bMin,max:bMax},{min:0,max:140});
 const inRange=pk.filter(q=>q[0]-q[2]*1.3>=bMin&&q[0]+q[2]*1.3<=bMax);
 series.push({type:'custom',xAxisIndex:g,yAxisIndex:g,data:inRange,silent:true,animation:false,clip:false,z:3,
  renderItem:(p,api)=>{const x=api.value(0),h=api.value(1),wd=api.value(2);
   const ch=[{type:'polygon',shape:{points:PK.map(q=>api.coord([x+q[0]*wd,q[1]*h]))},style:{fill:col}}];
   if(p.dataIndex===0){const a=api.coord([bMin,0]),b=api.coord([bMax,0]);ch.push({type:'rect',shape:{x:a[0],y:a[1]-2.4,width:b[0]-a[0],height:4.4},style:{fill:col}});}
   return{type:'group',children:ch};}});
}
function arcs(left,w,bMin,bMax,top,h,list,y0){
 const g=addGrid(left,top,w,h,{min:bMin,max:bMax},{min:y0,max:y0+h*3,inverse:true});
 series.push({type:'custom',xAxisIndex:g,yAxisIndex:g,data:list.map(a=>[a[0],a[1],a[2]]),silent:true,animation:false,clip:false,z:3,
  renderItem:(p,api)=>{const i=p.dataIndex,s=api.coord([api.value(0),y0]),e=api.coord([api.value(1),y0]),m=api.coord([0,api.value(2)]);
   return{type:'bezierCurve',shape:{x1:s[0],y1:s[1],x2:e[0],y2:e[1],cpx1:(s[0]+e[0])/2,cpy1:2*m[1]-s[1]},style:{fill:'none',stroke:list[i][3],lineWidth:3.8}};}});
}
const BLUE='#4f7cc4',RED='#8c2d30';
const bases=[1265,1314,1370,1424,1480,1528.6,1591,1646], nY=[1234,1278,1333,1387.5,1443.5,1498,1551,1605];
[L_ATAC_A,L_ATAC_B,L_EBF_A,L_EBF_B,L_SMC_A,L_SMC_B,L_H3_A,L_H3_B].forEach((t,i)=>track(654,507,237,1520,bases[i],t.concat(baseBumps),i%2?RED:BLUE));
[R_ATAC_A,R_ATAC_B,R_EBF_A,R_EBF_B,R_SMC_A,R_SMC_B,R_H3_A,R_H3_B].forEach((t,i)=>track(1305,511,285,1553,[1263.6,1314,1370,1425,1477,1528.6,1591,1646][i],t.concat(baseBumps),i%2?RED:BLUE));
arcs(654,507,237,1520,1652,100,arcsLParental,37);arcs(654,507,237,1520,1652+116,100,arcsLResistant,385);
arcs(1305,511,285,1553,1768,100,arcsR,385);
Box(1068,1219,45,429,3,'#f3f3f3','#dddddd',0);Box(1724,1219,47.5,429,3,'#f3f3f3','#dddddd',0);
function hAxis(l,w,pad){addGrid(l,1184,w,1,{show:true,position:'bottom',min:76.3102,max:76.4398,axisLine:{show:true,onZero:false,lineStyle:{width:3,color:'#111'}},axisTick:{show:true,length:6,customValues:hMbTicks,lineStyle:{width:3,color:'#111'}},axisLabel:{customValues:hMbTicks,formatter:v=>v.toFixed(2),fontSize:21,fontFamily:FONT,color:INK,margin:9,padding:pad}});}
hAxis(655,504,[0,0,0,8]);hAxis(1311,504,[0,10,0,0]);
['3','3','1','1','3','3','3','3'].forEach((s,i)=>T(s,671,nY[i],{fs:14}));
['1','1','3','3','2','2','1','1'].forEach((s,i)=>T(s,1317,nY[i]+(i==1?.5:0),{fs:14}));
function hLabels(xt,xb,xc,xb2,lab1,lab2){
 T('ATAC',xt,1266,{r:R90});L(xb,1220,xb,1312,3);T('EBF1',xt,1371,{r:R90});L(xb,1324,xb,1417,3);T('SMC1',xt,1485,{r:R90});L(xb,1438,xb,1531,3);T('H3K27ac',xt,1596,{r:R90});L(xb,1549,xb,1643,3);
 T('ChIP-seq',xc,1482,{r:R90});L(xb2,1323,xb2,1643,3);T(lab1,xt,1702,{r:R90});L(xb,1658,xb,1745,3);T(lab2,xt,1808,{r:R90});L(xb,1762,xb,1858,3);T('SMC1 HiChIP',xc,1758,{r:R90});L(xb2,1658,xb2,1858,3);}
hLabels(624,643,579,603,'Parental','Resistant');hLabels(1272,1291.6,1219,1250.5,'Ctrl','pInd-EBF1');
T('H',581,1118,{fs:33,fw:'bold'});
function tri(x0,x1,c){gfx.push({type:'polygon',z:100,silent:true,shape:{points:[[x0,1171],[(x0+x1)/2,1146],[x1,1171]]},style:{fill:c}});}
T('DND41',769,1119);L(655,1137,907,1137,3);tri(658,690,BLUE);T('Parental',689,1158,{a:'left'});tri(775,807,RED);T('Resistant',810,1158,{a:'left'});
T('Normalized interaction',1039,1119);
gfx.push({type:'rect',z:100,silent:true,shape:{x:952,y:1146,width:166,height:26},style:{fill:hGrad(heatStops),stroke:'#111',lineWidth:3}});T('0',939,1158);T('≥5',1138,1158);
T('chr12 (Mb)',619,1204);
T('MB157',1410,1119);L(1303,1137,1539,1137,3);tri(1303,1334,BLUE);T('Ctrl',1337,1158,{a:'left'});tri(1394,1425,RED);T('pInd-EBF1',1431,1158,{a:'left'});
T('Normalized interaction',1695,1119);
gfx.push({type:'rect',z:100,silent:true,shape:{x:1604,y:1146,width:166,height:26},style:{fill:hGrad(heatStops),stroke:'#111',lineWidth:3}});T('0',1594,1158);T('≥15',1794,1158);
T('chr12 (Mb)',1260,1204);
function geneArrow(x0,x1,tip){gfx.push({type:'polyline',z:100,silent:true,shape:{points:[[x0,1864],[x1,1864],[x1,1841],[tip+14,1841]]},style:{stroke:'#111',lineWidth:3.2,fill:'none'}});
 gfx.push({type:'polygon',z:100,silent:true,shape:{points:[[tip,1841],[tip+18,1833],[tip+14,1841],[tip+18,1848]]},style:{fill:'#111'}});}
geneArrow(1076,1112,1082);geneArrow(1721,1757,1726);
T('PHLDA1',1079,1887,{fw:'bold',it:'italic'});T('PHLDA1',1712,1887,{fw:'bold',it:'italic'});
T('Log{s|2} resistant/parental = 4.52',823,1915,{a:'left',rich:subRich(21.5)});T('FDR = 6.64E-303',823,1940,{a:'left'});
T('Log{s|2} pInd-EBF1/Ctrl = 2.06',1498.5,1915,{a:'left',rich:subRich(21.5)});T('FDR = 8.30E-111',1498.5,1940,{a:'left'});

// visual maps for B
const vm=Object.keys(bIdx).map(k=>({show:false,type:'continuous',min:0,max:1,dimension:2,seriesIndex:bIdx[k],inRange:{color:bPal[k]}}));
const chart=echarts.init(document.getElementById('main'),null,{renderer:'canvas'});
chart.setOption({animation:false,backgroundColor:'transparent',grid:grids,xAxis:xAxes,yAxis:yAxes,series:series,visualMap:vm,graphic:{elements:gfx}});

// C/D maps, in a chart of their own under the main one so that the cell steps are softened like the reference's smooth maps
(function(){const el=document.getElementById('hic');
 el.style.clipPath="path('"+apaPanels.map(p=>`M${p[0]} ${p[1]}h${APA}v${APA}h${-APA}z`).join(' ')+"')";
 const gs=[],xs=[],ys=[],ss=[],cats=Array.from({length:25},(_,i)=>i);
 apaPanels.forEach((p,i)=>{gs.push({left:p[0]-5,top:p[1]-5,width:APA+10,height:APA+10});
  xs.push({gridIndex:i,type:'category',data:cats,show:false});ys.push({gridIndex:i,type:'category',data:cats,inverse:true,show:false});
  const d=[];const m=p[2];for(let r=0;r<25;r++)for(let c=0;c<25;c++){const ch=r<=12?m[r][c]:m[24-r][24-c];d.push([c,r,1+parseInt(ch,16)/15]);}
  ss.push({type:'heatmap',xAxisIndex:i,yAxisIndex:i,data:d,progressive:0,silent:true,animation:false,emphasis:{disabled:true}});});
 const hc=echarts.init(el,null,{renderer:'canvas'});
 hc.setOption({animation:false,backgroundColor:'transparent',grid:gs,xAxis:xs,yAxis:ys,series:ss,
  visualMap:{show:false,min:1,max:2,dimension:2,inRange:{color:apaStops.map(q=>q[1])}}});
})();
</script></body></html>
